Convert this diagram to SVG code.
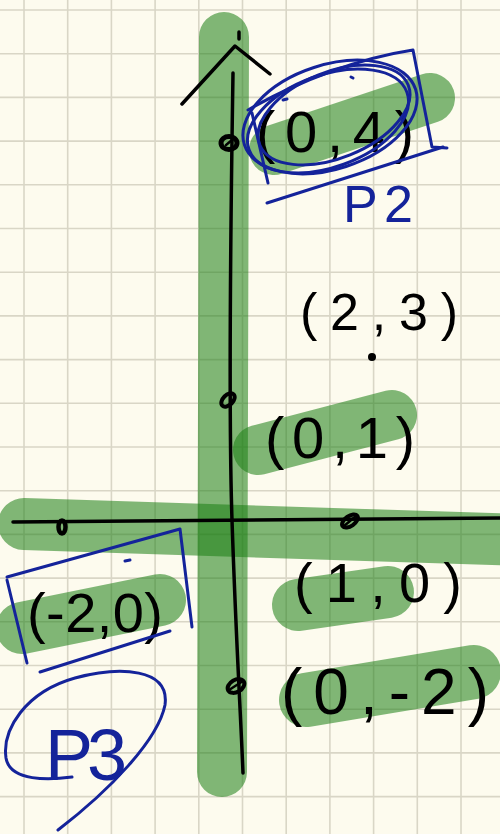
<svg xmlns="http://www.w3.org/2000/svg" width="500" height="834" viewBox="0 0 500 834">
<style>
.grid{stroke:#d9d6c6;stroke-width:1.6;fill:none}
.hl{stroke:#1a7d12;stroke-opacity:0.55;stroke-linecap:round;fill:none}
.ink{stroke:#000;stroke-linecap:round;stroke-linejoin:round;fill:none}
.blue{stroke:#14239a;stroke-width:3;stroke-linecap:round;stroke-linejoin:round;fill:none}
.lbl{font-family:"Liberation Sans","DejaVu Sans",sans-serif;fill:#000}
.blbl{font-family:"Liberation Sans","DejaVu Sans",sans-serif;fill:#14239a}
</style>
<rect width="500" height="834" fill="#fdfbee"/>
<path class="grid" d="M24 0V834M67.7 0V834M111.4 0V834M155.1 0V834M198.8 0V834M242.5 0V834M286.2 0V834M329.9 0V834M373.6 0V834M417.3 0V834M461 0V834M0 10H500M0 53.7H500M0 97.4H500M0 141.1H500M0 184.8H500M0 228.5H500M0 272.2H500M0 315.9H500M0 359.6H500M0 403.3H500M0 447H500M0 490.7H500M0 534.4H500M0 578.1H500M0 621.8H500M0 665.5H500M0 709.2H500M0 752.9H500M0 796.6H500"/>
<g id="highlights">
<path class="hl" stroke-width="50" d="M224 37L222 772"/>
<path class="hl" stroke-width="52" d="M24 524L520 540"/>
<path class="hl" stroke-width="50" d="M274 150L430 98"/>
<path class="hl" stroke-width="50" d="M258 450L392 415"/>
<path class="hl" stroke-width="52" d="M22 628L160 600"/>
<path class="hl" stroke-width="52" d="M298 605L388 592"/>
<path class="hl" stroke-width="54" d="M306 700L474 672"/>
</g>
<g id="axes">
<path class="ink" stroke-width="3.5" d="M233 73C231 200 228 400 232 520S240 700 243 773"/>
<path class="ink" stroke-width="3.5" d="M182 104L235 46L270 74"/>
<path class="ink" stroke-width="3.5" d="M239 32L239 39"/>
<path class="ink" stroke-width="3.5" d="M13 522L500 518"/>
</g>
<g id="points">
<ellipse class="ink" stroke-width="5" cx="229" cy="143" rx="8" ry="6.5"/>
<path class="ink" stroke-width="2.5" d="M226 145L232 140"/>
<ellipse class="ink" stroke-width="4" cx="228" cy="400" rx="8" ry="5" transform="rotate(-45 228 400)"/>
<ellipse class="ink" stroke-width="4.5" cx="62" cy="527" rx="3.5" ry="6.5"/>
<ellipse class="ink" stroke-width="4" cx="350" cy="521" rx="9" ry="5" transform="rotate(-35 350 521)"/>
<path class="ink" stroke-width="2.5" d="M344 526L356 516"/>
<ellipse class="ink" stroke-width="4" cx="236" cy="686" rx="9" ry="6" transform="rotate(-30 236 686)"/>
<path class="ink" stroke-width="2.5" d="M229 690L243 681"/>
<circle cx="372" cy="357" r="4" fill="#000"/>
</g>
<g id="labels">
<text class="lbl" x="256" y="152" font-size="58" textLength="158" lengthAdjust="spacing">(0,4)</text>
<text class="lbl" x="300" y="330" font-size="52" textLength="158" lengthAdjust="spacing">(2,3)</text>
<text class="lbl" x="265" y="458" font-size="58" textLength="150" lengthAdjust="spacing">(0,1)</text>
<text class="lbl" x="294" y="602" font-size="56" textLength="168" lengthAdjust="spacing">(1,0)</text>
<text class="lbl" x="281" y="714" font-size="64" textLength="208" lengthAdjust="spacing">(0,-2)</text>
<text class="lbl" x="27" y="632" font-size="56" textLength="136" lengthAdjust="spacing">(-2,0)</text>
</g>
<g id="p2">
<ellipse class="blue" cx="330" cy="117" rx="90" ry="52" transform="rotate(-18 330 117)"/>
<ellipse class="blue" cx="328" cy="121" rx="84" ry="46" transform="rotate(-20 328 121)"/>
<ellipse class="blue" cx="334" cy="115" rx="80" ry="43" transform="rotate(-22 334 115)"/>
<path class="blue" d="M248 110C300 80 360 58 413 50L432 147L447 148"/>
<path class="blue" d="M252 113L268 183"/>
<path class="blue" d="M267 203L443 147"/>
<path class="blue" d="M351 77L353 78M283 100L287 99"/>
<text class="blbl" x="343" y="222" font-size="52" textLength="70" lengthAdjust="spacing">P2</text>
</g>
<g id="p3">
<path class="blue" d="M7 577L180 529L192 627"/>
<path class="blue" d="M7 580L27 663"/>
<path class="blue" d="M40 672L170 631"/>
<path class="blue" d="M125 561L130 560"/>
<path class="blue" d="M58 830C110 790 158 740 165 705C170 668 120 666 75 678C25 692 2 730 6 758C10 782 50 780 72 777"/>
<text class="blbl" x="45" y="780" font-size="72" textLength="82" lengthAdjust="spacing">P3</text>
</g>
</svg>
